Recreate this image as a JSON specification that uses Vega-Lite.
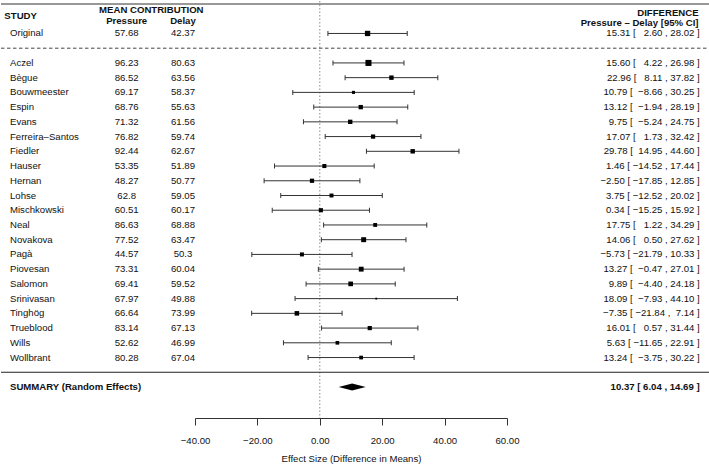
{
  "$schema": "https://vega.github.io/schema/vega-lite/v6.json",
  "width": 312,
  "height": 417,
  "padding": {"left": 0, "top": 0, "right": 0, "bottom": 0},
  "config": {
    "view": {"stroke": null},
    "text": {"font": "Liberation Sans", "fontSize": 9.6, "color": "#111"},
    "axis": {"labelFont": "Liberation Sans", "titleFont": "Liberation Sans"}
  },
  "resolve": {"axis": {"x": "independent", "y": "independent"}},
  "data": {
    "values": [
      {"study": "Original", "kind": "original", "pressure": 57.68, "delay": 42.37, "est": 15.31, "lo": 2.60, "hi": 28.02, "weight": 0.0238, "ci": "15.31\u00a0[\u00a0\u00a0\u00a02.60\u00a0,\u00a028.02\u00a0]"},
      {"study": "Aczel", "kind": "rep", "pressure": 96.23, "delay": 80.63, "est": 15.60, "lo": 4.22, "hi": 26.98, "weight": 0.0297, "ci": "15.60\u00a0[\u00a0\u00a0\u00a04.22\u00a0,\u00a026.98\u00a0]"},
      {"study": "Bègue", "kind": "rep", "pressure": 86.52, "delay": 63.56, "est": 22.96, "lo": 8.11, "hi": 37.82, "weight": 0.0174, "ci": "22.96\u00a0[\u00a0\u00a0\u00a08.11\u00a0,\u00a037.82\u00a0]"},
      {"study": "Bouwmeester", "kind": "rep", "pressure": 69.17, "delay": 58.37, "est": 10.79, "lo": -8.66, "hi": 30.25, "weight": 0.0102, "ci": "10.79\u00a0[\u00a0\u00a0\u22128.66\u00a0,\u00a030.25\u00a0]"},
      {"study": "Espin", "kind": "rep", "pressure": 68.76, "delay": 55.63, "est": 13.12, "lo": -1.94, "hi": 28.19, "weight": 0.0169, "ci": "13.12\u00a0[\u00a0\u00a0\u22121.94\u00a0,\u00a028.19\u00a0]"},
      {"study": "Evans", "kind": "rep", "pressure": 71.32, "delay": 61.56, "est": 9.75, "lo": -5.24, "hi": 24.75, "weight": 0.0171, "ci": "9.75\u00a0[\u00a0\u00a0\u22125.24\u00a0,\u00a024.75\u00a0]"},
      {"study": "Ferreira–Santos", "kind": "rep", "pressure": 76.82, "delay": 59.74, "est": 17.07, "lo": 1.73, "hi": 32.42, "weight": 0.0163, "ci": "17.07\u00a0[\u00a0\u00a0\u00a01.73\u00a0,\u00a032.42\u00a0]"},
      {"study": "Fiedler", "kind": "rep", "pressure": 92.44, "delay": 62.67, "est": 29.78, "lo": 14.95, "hi": 44.60, "weight": 0.0175, "ci": "29.78\u00a0[\u00a0\u00a014.95\u00a0,\u00a044.60\u00a0]"},
      {"study": "Hauser", "kind": "rep", "pressure": 53.35, "delay": 51.89, "est": 1.46, "lo": -14.52, "hi": 17.44, "weight": 0.0151, "ci": "1.46\u00a0[\u00a0\u221214.52\u00a0,\u00a017.44\u00a0]"},
      {"study": "Hernan", "kind": "rep", "pressure": 48.27, "delay": 50.77, "est": -2.50, "lo": -17.85, "hi": 12.85, "weight": 0.0163, "ci": "\u22122.50\u00a0[\u00a0\u221217.85\u00a0,\u00a012.85\u00a0]"},
      {"study": "Lohse", "kind": "rep", "pressure": 62.8, "delay": 59.05, "est": 3.75, "lo": -12.52, "hi": 20.02, "weight": 0.0145, "ci": "3.75\u00a0[\u00a0\u221212.52\u00a0,\u00a020.02\u00a0]"},
      {"study": "Mischkowski", "kind": "rep", "pressure": 60.51, "delay": 60.17, "est": 0.34, "lo": -15.25, "hi": 15.92, "weight": 0.0158, "ci": "0.34\u00a0[\u00a0\u221215.25\u00a0,\u00a015.92\u00a0]"},
      {"study": "Neal", "kind": "rep", "pressure": 86.63, "delay": 68.88, "est": 17.75, "lo": 1.22, "hi": 34.29, "weight": 0.0141, "ci": "17.75\u00a0[\u00a0\u00a0\u00a01.22\u00a0,\u00a034.29\u00a0]"},
      {"study": "Novakova", "kind": "rep", "pressure": 77.52, "delay": 63.47, "est": 14.06, "lo": 0.50, "hi": 27.62, "weight": 0.0209, "ci": "14.06\u00a0[\u00a0\u00a0\u00a00.50\u00a0,\u00a027.62\u00a0]"},
      {"study": "Pagà", "kind": "rep", "pressure": 44.57, "delay": 50.3, "est": -5.73, "lo": -21.79, "hi": 10.33, "weight": 0.0149, "ci": "\u22125.73\u00a0[\u00a0\u221221.79\u00a0,\u00a010.33\u00a0]"},
      {"study": "Piovesan", "kind": "rep", "pressure": 73.31, "delay": 60.04, "est": 13.27, "lo": -0.47, "hi": 27.01, "weight": 0.0203, "ci": "13.27\u00a0[\u00a0\u00a0\u22120.47\u00a0,\u00a027.01\u00a0]"},
      {"study": "Salomon", "kind": "rep", "pressure": 69.41, "delay": 59.52, "est": 9.89, "lo": -4.40, "hi": 24.18, "weight": 0.0188, "ci": "9.89\u00a0[\u00a0\u00a0\u22124.40\u00a0,\u00a024.18\u00a0]"},
      {"study": "Srinivasan", "kind": "rep", "pressure": 67.97, "delay": 49.88, "est": 18.09, "lo": -7.93, "hi": 44.10, "weight": 0.0057, "ci": "18.09\u00a0[\u00a0\u00a0\u22127.93\u00a0,\u00a044.10\u00a0]"},
      {"study": "Tinghög", "kind": "rep", "pressure": 66.64, "delay": 73.99, "est": -7.35, "lo": -21.84, "hi": 7.14, "weight": 0.0183, "ci": "\u22127.35\u00a0[\u00a0\u221221.84\u00a0,\u00a0\u00a07.14\u00a0]"},
      {"study": "Trueblood", "kind": "rep", "pressure": 83.14, "delay": 67.13, "est": 16.01, "lo": 0.57, "hi": 31.44, "weight": 0.0161, "ci": "16.01\u00a0[\u00a0\u00a0\u00a00.57\u00a0,\u00a031.44\u00a0]"},
      {"study": "Wills", "kind": "rep", "pressure": 52.62, "delay": 46.99, "est": 5.63, "lo": -11.65, "hi": 22.91, "weight": 0.0129, "ci": "5.63\u00a0[\u00a0\u221211.65\u00a0,\u00a022.91\u00a0]"},
      {"study": "Wollbrant", "kind": "rep", "pressure": 80.28, "delay": 67.04, "est": 13.24, "lo": -3.75, "hi": 30.22, "weight": 0.0133, "ci": "13.24\u00a0[\u00a0\u00a0\u22123.75\u00a0,\u00a030.22\u00a0]"},
      {"study": "SUMMARY (Random Effects)", "kind": "summary", "est": 10.37, "lo": 6.04, "hi": 14.69, "ci": "10.37\u00a0[\u00a06.04\u00a0,\u00a014.69\u00a0]"}
    ]
  },
  "layer": [
    {
      "data": {"values": [{"k": 1}]},
      "mark": {"type": "rule", "strokeDash": [1.5, 2], "color": "#8a8a8a", "strokeWidth": 1},
      "encoding": {
        "x": {"datum": 0, "type": "quantitative", "axis": null}
      }
    },
    {
      "data": {"values": [{"k": 1}]},
      "mark": {"type": "rule", "color": "#333", "strokeWidth": 1},
      "encoding": {
        "x": {"datum": -102.18, "type": "quantitative", "axis": null},
        "x2": {"datum": 125.06},
        "y": {"datum": "_top", "type": "nominal", "axis": null}
      }
    },
    {
      "data": {"values": [{"k": 1}]},
      "mark": {"type": "rule", "color": "#444", "strokeWidth": 1, "strokeDash": [3.5, 2.5]},
      "encoding": {
        "x": {"datum": -102.18, "type": "quantitative", "axis": null},
        "x2": {"datum": 125.06},
        "y": {"datum": "_gap1", "type": "nominal", "axis": null}
      }
    },
    {
      "data": {"values": [{"k": 1}]},
      "mark": {"type": "rule", "color": "#222", "strokeWidth": 1.2},
      "encoding": {
        "x": {"datum": -102.18, "type": "quantitative", "axis": null},
        "x2": {"datum": 125.06},
        "y": {"datum": "_gap2", "type": "nominal", "axis": null}
      }
    },
    {
      "transform": [{"filter": "datum.kind != 'summary'"}],
      "mark": {"type": "rule", "color": "#333", "strokeWidth": 1},
      "encoding": {
        "x": {
          "field": "lo", "type": "quantitative",
          "scale": {"domain": [-40, 60], "nice": false, "zero": false},
          "axis": {
            "orient": "bottom",
            "values": [-40, -20, 0, 20, 40, 60], "format": ".2f",
            "title": "Effect Size (Difference in Means)",
            "grid": false, "domainColor": "#333", "domainWidth": 1,
            "tickColor": "#333", "tickSize": 7, "tickWidth": 1,
            "labelFontSize": 9.6, "titleFontSize": 9.6, "titleFontWeight": "normal",
            "labelColor": "#111", "titleColor": "#111",
            "labelPadding": 10, "titlePadding": 9,
            "labelFlush": false, "labelOverlap": false
          }
        },
        "x2": {"field": "hi"},
        "y": {
          "field": "study", "type": "nominal", "axis": null,
          "scale": {
            "type": "point", "padding": 0, "range": [3, 386],
            "domain": ["_top", "_hdr", "Original", "_gap1", "Aczel", "Bègue", "Bouwmeester", "Espin", "Evans", "Ferreira–Santos", "Fiedler", "Hauser", "Hernan", "Lohse", "Mischkowski", "Neal", "Novakova", "Pagà", "Piovesan", "Salomon", "Srinivasan", "Tinghög", "Trueblood", "Wills", "Wollbrant", "_gap2", "SUMMARY (Random Effects)"]
          }
        }
      }
    },
    {
      "transform": [{"filter": "datum.kind != 'summary'"}],
      "mark": {"type": "tick", "orient": "vertical", "size": 5, "thickness": 1, "color": "#333", "opacity": 1},
      "encoding": {
        "x": {"field": "lo", "type": "quantitative", "axis": null},
        "y": {"field": "study", "type": "nominal", "axis": null}
      }
    },
    {
      "transform": [{"filter": "datum.kind != 'summary'"}],
      "mark": {"type": "tick", "orient": "vertical", "size": 5, "thickness": 1, "color": "#333", "opacity": 1},
      "encoding": {
        "x": {"field": "hi", "type": "quantitative", "axis": null},
        "y": {"field": "study", "type": "nominal", "axis": null}
      }
    },
    {
      "transform": [{"filter": "datum.kind != 'summary'"}],
      "mark": {"type": "square", "filled": true, "color": "#000", "opacity": 1, "strokeWidth": 0},
      "encoding": {
        "x": {"field": "est", "type": "quantitative", "axis": null},
        "y": {"field": "study", "type": "nominal", "axis": null},
        "size": {"field": "weight", "type": "quantitative", "legend": null, "scale": {"type": "linear", "domain": [0.0055, 0.03], "range": [3, 37], "zero": false}}
      }
    },
    {
      "transform": [{"filter": "datum.kind == 'summary'"}],
      "mark": {"type": "point", "shape": "M-1,0L0,-0.26L1,0L0,0.26Z", "size": 729, "filled": true, "color": "#000", "opacity": 1, "strokeWidth": 0},
      "encoding": {
        "x": {"field": "est", "type": "quantitative", "axis": null},
        "y": {"field": "study", "type": "nominal", "axis": null}
      }
    },
    {
      "transform": [{"filter": "datum.kind != 'summary'"}],
      "mark": {"type": "text", "align": "left"},
      "encoding": {
        "x": {"datum": -99.3, "type": "quantitative", "axis": null},
        "y": {"field": "study", "type": "nominal", "axis": null},
        "text": {"field": "study", "type": "nominal"}
      }
    },
    {
      "transform": [{"filter": "datum.kind == 'summary'"}],
      "mark": {"type": "text", "align": "left", "fontWeight": "bold"},
      "encoding": {
        "x": {"datum": -99.3, "type": "quantitative", "axis": null},
        "y": {"field": "study", "type": "nominal", "axis": null},
        "text": {"field": "study", "type": "nominal"}
      }
    },
    {
      "transform": [{"filter": "datum.kind != 'summary'"}],
      "mark": {"type": "text", "align": "center"},
      "encoding": {
        "x": {"datum": -61.9, "type": "quantitative", "axis": null},
        "y": {"field": "study", "type": "nominal", "axis": null},
        "text": {"field": "pressure", "type": "nominal"}
      }
    },
    {
      "transform": [{"filter": "datum.kind != 'summary'"}],
      "mark": {"type": "text", "align": "center"},
      "encoding": {
        "x": {"datum": -43.85, "type": "quantitative", "axis": null},
        "y": {"field": "study", "type": "nominal", "axis": null},
        "text": {"field": "delay", "type": "nominal"}
      }
    },
    {
      "transform": [{"filter": "datum.kind != 'summary'"}],
      "mark": {"type": "text", "align": "right"},
      "encoding": {
        "x": {"datum": 121.75, "type": "quantitative", "axis": null},
        "y": {"field": "study", "type": "nominal", "axis": null},
        "text": {"field": "ci", "type": "nominal"}
      }
    },
    {
      "transform": [{"filter": "datum.kind == 'summary'"}],
      "mark": {"type": "text", "align": "right", "fontWeight": "bold"},
      "encoding": {
        "x": {"datum": 121.75, "type": "quantitative", "axis": null},
        "y": {"field": "study", "type": "nominal", "axis": null},
        "text": {"field": "ci", "type": "nominal"}
      }
    },
    {
      "data": {"values": [{"k": 1}]},
      "mark": {"type": "text", "align": "left", "fontWeight": "bold", "dy": -3, "text": "STUDY"},
      "encoding": {
        "x": {"datum": -101.1, "type": "quantitative", "axis": null},
        "y": {"datum": "_hdr", "type": "nominal", "axis": null}
      }
    },
    {
      "data": {"values": [{"k": 1}]},
      "mark": {"type": "text", "align": "center", "fontWeight": "bold", "dy": -8.6, "text": "MEAN CONTRIBUTION"},
      "encoding": {
        "x": {"datum": -54.0, "type": "quantitative", "axis": null},
        "y": {"datum": "_hdr", "type": "nominal", "axis": null}
      }
    },
    {
      "data": {"values": [{"k": 1}]},
      "mark": {"type": "text", "align": "center", "fontWeight": "bold", "dy": 2, "text": "Pressure"},
      "encoding": {
        "x": {"datum": -61.9, "type": "quantitative", "axis": null},
        "y": {"datum": "_hdr", "type": "nominal", "axis": null}
      }
    },
    {
      "data": {"values": [{"k": 1}]},
      "mark": {"type": "text", "align": "center", "fontWeight": "bold", "dy": 2, "text": "Delay"},
      "encoding": {
        "x": {"datum": -43.85, "type": "quantitative", "axis": null},
        "y": {"datum": "_hdr", "type": "nominal", "axis": null}
      }
    },
    {
      "data": {"values": [{"k": 1}]},
      "mark": {"type": "text", "align": "right", "fontWeight": "bold", "dy": -5.3, "text": "DIFFERENCE"},
      "encoding": {
        "x": {"datum": 121.4, "type": "quantitative", "axis": null},
        "y": {"datum": "_hdr", "type": "nominal", "axis": null}
      }
    },
    {
      "data": {"values": [{"k": 1}]},
      "mark": {"type": "text", "align": "right", "fontWeight": "bold", "dy": 4.4, "text": "Pressure – Delay [95% CI]"},
      "encoding": {
        "x": {"datum": 121.4, "type": "quantitative", "axis": null},
        "y": {"datum": "_hdr", "type": "nominal", "axis": null}
      }
    }
  ]
}
